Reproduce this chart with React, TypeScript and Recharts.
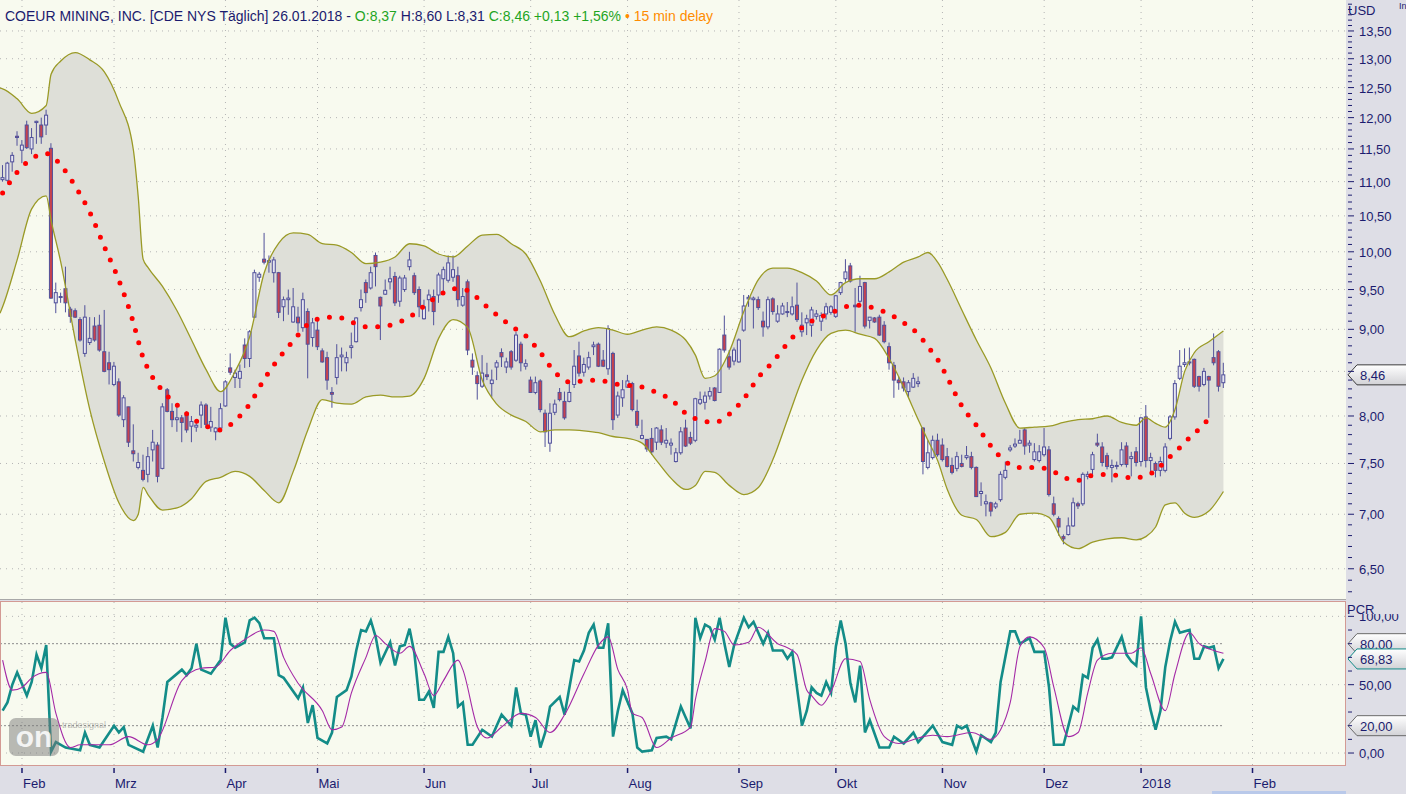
import { ComposedChart, Bar, Line, Area, XAxis, YAxis, CartesianGrid, ReferenceLine, ReferenceDot } from 'recharts';

// daily candles, index 0 = 26.01.2017 ... 252 = 26.01.2018
const OPEN = [
  11.03, 11.02, 11.3, 11.7, 11.48, 11.88, 11.5, 11.92, 11.88, 11.88,
  11.51, 9.33, 9.41, 9.51, 9.25, 9.23, 9.12, 8.71, 8.84, 9.04,
  9.05, 8.73, 8.6, 8.35, 8.38, 7.96, 8.1, 7.63, 7.46, 7.43,
  7.39, 7.64, 7.69, 7.45, 8.29, 8.05, 7.96, 7.98, 8.01, 7.89,
  7.88, 8.01, 8.12, 7.88, 7.83, 7.87, 8.11, 8.54, 8.43, 8.42,
  8.81, 8.65, 9.15, 9.66, 9.9, 9.86, 9.72, 9.72, 9.28, 9.37,
  9.09, 9.15, 9.02, 9.22, 8.9, 8.99, 8.74, 8.66, 8.26, 8.43,
  8.67, 8.6, 8.78, 8.85, 9.27, 9.59, 9.52, 9.95, 9.4, 9.44,
  9.6, 9.67, 9.35, 9.5, 9.8, 9.68, 9.5, 9.13, 9.37, 9.41,
  9.43, 9.64, 9.62, 9.66, 9.68, 9.3, 9.6, 8.63, 8.45, 8.33,
  8.46, 8.36, 8.55, 8.72, 8.55, 8.73, 8.63, 8.82, 8.56, 8.4,
  8.26, 8.39, 8.03, 7.71, 8.04, 8.26, 8.16, 8.16, 8.35, 8.68,
  8.49, 8.55, 8.79, 8.82, 8.63, 8.53, 8.71, 8.01, 8.2, 8.32,
  8.36, 8.05, 7.76, 7.75, 7.76, 7.72, 7.85, 7.71, 7.69, 7.52,
  7.61, 7.87, 7.77, 7.74, 8.14, 8.15, 8.22, 8.31, 8.26, 8.93,
  8.67, 8.62, 8.61, 8.99, 9.38, 9.37, 9.37, 9.1, 9.03, 9.38,
  9.1, 9.19, 9.21, 9.19, 9.3, 8.97, 9.08, 9.05, 9.16, 9.1,
  9.19, 9.21, 9.16, 9.46, 9.64, 9.81, 9.3, 9.35, 9.59, 9.11,
  9.14, 9.15, 9.05, 8.79, 8.57, 8.4, 8.38, 8.27, 8.32, 8.36,
  7.87, 7.46, 7.56, 7.74, 7.69, 7.57, 7.48, 7.45, 7.5, 7.56,
  7.57, 7.46, 7.2, 7.1, 7.11, 7.07, 7.14, 7.36, 7.64, 7.68,
  7.71, 7.85, 7.69, 7.54, 7.53, 7.59, 7.64, 7.1, 6.96, 6.79,
  6.81, 6.89, 7.1, 7.1, 7.37, 7.44, 7.71, 7.67, 7.58, 7.46,
  7.47, 7.49, 7.68, 7.55, 7.62, 7.52, 7.99, 7.53, 7.5, 7.43,
  7.43, 7.76, 7.99, 8.42, 8.58, 8.6, 8.64, 8.44, 8.35, 8.44,
  8.66, 8.73, 8.37,
];
const HIGH = [
  11.25, 11.3, 11.45, 11.78, 11.64, 11.95, 11.83, 11.95, 12.0, 12.13,
  11.59, 9.59, 9.46, 9.8, 9.28, 9.26, 9.15, 9.3, 9.15, 9.15,
  9.18, 9.24, 8.73, 8.61, 8.42, 8.23, 8.1, 7.91, 7.61, 7.59,
  7.67, 7.85, 7.72, 8.14, 8.31, 8.14, 8.1, 8.01, 8.05, 8.0,
  7.96, 8.16, 8.14, 8.1, 7.88, 8.14, 8.4, 8.71, 8.52, 8.58,
  8.89, 8.99, 9.76, 9.73, 10.26, 9.95, 9.93, 9.73, 9.41, 9.5,
  9.52, 9.28, 9.46, 9.26, 9.14, 9.12, 8.77, 8.73, 8.32, 8.82,
  8.78, 8.73, 8.96, 9.15, 9.5, 9.63, 9.8, 9.99, 9.41, 9.63,
  9.8, 9.73, 9.68, 9.69, 10.0, 9.72, 9.54, 9.37, 9.5, 9.5,
  9.72, 9.8, 9.95, 9.95, 9.8, 9.52, 9.63, 8.71, 8.5, 8.69,
  8.6, 8.52, 8.63, 8.77, 8.66, 8.75, 8.97, 8.85, 8.64, 8.44,
  8.44, 8.41, 8.07, 8.14, 8.18, 8.31, 8.27, 8.38, 8.75, 8.85,
  8.66, 8.73, 8.85, 8.84, 8.75, 9.05, 8.73, 8.27, 8.4, 8.46,
  8.38, 8.18, 7.96, 7.75, 7.87, 7.88, 7.9, 7.87, 7.76, 7.66,
  7.88, 7.96, 7.83, 8.2, 8.27, 8.27, 8.32, 8.32, 8.77, 9.17,
  8.75, 8.78, 8.89, 9.43, 9.43, 9.41, 9.41, 9.22, 9.41, 9.4,
  9.3, 9.33, 9.34, 9.41, 9.59, 9.21, 9.18, 9.28, 9.24, 9.21,
  9.33, 9.3, 9.43, 9.6, 9.9, 9.85, 9.52, 9.68, 9.6, 9.15,
  9.15, 9.18, 9.1, 8.84, 8.61, 8.44, 8.43, 8.4, 8.48, 8.44,
  7.88, 7.74, 7.79, 7.81, 7.76, 7.66, 7.56, 7.62, 7.59, 7.68,
  7.62, 7.47, 7.31, 7.19, 7.12, 7.12, 7.42, 7.52, 7.69, 7.76,
  7.85, 7.87, 7.74, 7.71, 7.69, 7.87, 7.68, 7.17, 6.98, 6.81,
  6.97, 7.16, 7.12, 7.41, 7.42, 7.62, 7.81, 7.72, 7.61, 7.54,
  7.52, 7.72, 7.72, 7.62, 7.67, 7.99, 8.12, 7.61, 7.52, 7.57,
  7.71, 8.01, 8.4, 8.75, 8.77, 8.78, 8.65, 8.45, 8.54, 8.45,
  8.95, 8.75, 8.6,
];
const LOW = [
  11.0, 11.0, 11.15, 11.55, 11.28, 11.5, 11.42, 11.58, 11.58, 11.72,
  9.38, 9.2, 9.33, 9.21, 9.08, 9.14, 8.85, 8.67, 8.81, 8.85,
  8.73, 8.49, 8.35, 8.33, 7.99, 7.88, 7.67, 7.52, 7.44, 7.32,
  7.31, 7.52, 7.31, 7.44, 8.04, 7.88, 7.83, 7.72, 7.82, 7.72,
  7.83, 7.87, 7.87, 7.83, 7.74, 7.85, 8.1, 8.46, 8.31, 8.31,
  8.54, 8.55, 9.14, 9.6, 9.83, 9.72, 9.59, 9.14, 9.1, 9.18,
  9.08, 8.97, 8.97, 8.42, 8.79, 8.75, 8.6, 8.29, 8.09, 8.35,
  8.5, 8.5, 8.65, 8.84, 9.22, 9.33, 9.5, 9.54, 8.87, 9.43,
  9.5, 9.29, 9.28, 9.47, 9.75, 9.43, 9.15, 9.12, 9.22, 9.05,
  9.33, 9.46, 9.59, 9.6, 9.28, 9.28, 8.69, 8.46, 8.18, 8.31,
  8.4, 8.21, 8.4, 8.55, 8.48, 8.52, 8.61, 8.5, 8.52, 8.26,
  8.24, 8.04, 7.67, 7.62, 8.01, 8.16, 7.96, 8.15, 8.31, 8.44,
  8.44, 8.52, 8.69, 8.55, 8.55, 8.46, 7.85, 7.98, 8.1, 8.31,
  8.05, 7.87, 7.75, 7.62, 7.59, 7.64, 7.69, 7.66, 7.59, 7.51,
  7.59, 7.67, 7.69, 7.72, 8.12, 8.07, 8.18, 8.16, 8.26, 8.72,
  8.52, 8.57, 8.6, 8.97, 9.28, 9.01, 9.24, 8.91, 9.0, 9.18,
  9.08, 9.18, 9.15, 9.17, 9.09, 8.91, 8.93, 8.91, 9.12, 8.98,
  9.12, 9.18, 9.14, 9.43, 9.6, 9.59, 8.97, 9.33, 9.01, 9.01,
  9.08, 8.92, 8.83, 8.52, 8.2, 8.29, 8.27, 8.21, 8.31, 8.32,
  7.39, 7.44, 7.54, 7.57, 7.52, 7.46, 7.39, 7.42, 7.46, 7.54,
  7.44, 7.17, 7.08, 6.98, 6.98, 7.05, 7.12, 7.34, 7.62, 7.66,
  7.71, 7.59, 7.61, 7.52, 7.51, 7.57, 7.17, 6.98, 6.8, 6.72,
  6.8, 6.88, 7.05, 7.08, 7.34, 7.39, 7.67, 7.47, 7.44, 7.31,
  7.44, 7.47, 7.46, 7.37, 7.47, 7.47, 7.46, 7.39, 7.36, 7.37,
  7.41, 7.74, 7.96, 8.4, 8.55, 8.57, 8.31, 8.27, 8.33, 7.98,
  8.57, 8.27, 8.31,
];
const CLOSE = [
  11.06, 11.28, 11.4, 11.68, 11.56, 11.52, 11.68, 11.94, 11.69, 12.04,
  9.39, 9.46, 9.4, 9.33, 9.16, 9.15, 8.87, 9.15, 8.89, 8.87,
  8.75, 8.5, 8.52, 8.56, 8.01, 8.2, 7.72, 7.6, 7.51, 7.34,
  7.57, 7.72, 7.37, 8.1, 8.05, 7.96, 7.98, 7.93, 7.85, 7.94,
  7.9, 8.12, 7.91, 7.94, 7.87, 8.08, 8.38, 8.49, 8.48, 8.5,
  8.65, 8.97, 9.72, 9.7, 9.86, 9.88, 9.89, 9.21, 9.37, 9.39,
  9.28, 9.08, 9.37, 8.82, 9.08, 8.79, 8.61, 8.4, 8.24, 8.66,
  8.69, 8.66, 8.8, 9.14, 9.37, 9.46, 9.72, 9.8, 9.29, 9.49,
  9.64, 9.33, 9.65, 9.65, 9.89, 9.46, 9.28, 9.28, 9.43, 9.22,
  9.69, 9.76, 9.85, 9.76, 9.37, 9.41, 8.75, 8.55, 8.36, 8.48,
  8.44, 8.4, 8.6, 8.67, 8.61, 8.55, 8.93, 8.6, 8.59, 8.26,
  8.37, 8.07, 7.83, 8.03, 8.13, 8.18, 7.98, 8.26, 8.56, 8.48,
  8.58, 8.66, 8.81, 8.56, 8.56, 9.01, 7.96, 8.22, 8.29, 8.39,
  8.07, 7.9, 7.79, 7.65, 7.62, 7.87, 7.72, 7.74, 7.71, 7.61,
  7.83, 7.68, 7.71, 8.19, 8.18, 8.22, 8.27, 8.17, 8.76, 8.75,
  8.55, 8.75, 8.87, 9.29, 9.4, 9.39, 9.27, 9.03, 9.37, 9.22,
  9.19, 9.29, 9.22, 9.28, 9.12, 9.05, 9.13, 9.24, 9.19, 9.17,
  9.28, 9.28, 9.42, 9.59, 9.73, 9.61, 9.28, 9.54, 9.04, 9.15,
  9.09, 8.93, 8.85, 8.6, 8.4, 8.37, 8.31, 8.37, 8.42, 8.38,
  7.52, 7.61, 7.74, 7.59, 7.54, 7.47, 7.41, 7.57, 7.47, 7.58,
  7.46, 7.17, 7.22, 7.12, 7.03, 7.1, 7.39, 7.43, 7.66, 7.7,
  7.74, 7.68, 7.71, 7.62, 7.62, 7.67, 7.19, 7.0, 6.88, 6.77,
  6.89, 7.11, 7.08, 7.39, 7.39, 7.59, 7.69, 7.51, 7.47, 7.48,
  7.48, 7.64, 7.49, 7.57, 7.51, 7.98, 7.53, 7.56, 7.43, 7.52,
  7.67, 7.99, 8.36, 8.56, 8.6, 8.61, 8.33, 8.33, 8.5, 8.4,
  8.6, 8.33, 8.46,
];

// Bollinger bands (upper / lower / middle), read at these day indices
const BAND_DAY = [
  -0.54, 0, 3, 6, 9, 10, 12, 15, 18, 21,
  24, 27, 28, 29, 30, 33, 36, 39, 42, 45,
  48, 51, 54, 57, 60, 63, 66, 69, 72, 75,
  78, 81, 84, 87, 90, 93, 96, 99, 102, 105,
  108, 111, 114, 117, 120, 123, 126, 129, 132, 135,
  138, 141, 143, 145, 147, 150, 153, 156, 159, 162,
  165, 168, 171, 174, 177, 180, 183, 186, 189, 191,
  193, 195, 198, 201, 204, 207, 210, 213, 216, 219,
  222, 225, 228, 231, 234, 236, 238, 240, 242, 244,
  246, 249, 252,
];
const BAND_UP = [
  12.49, 12.48, 12.31, 12.07, 12.2, 12.73, 12.96, 13.11, 12.98, 12.77,
  12.26, 11.48, 10.77, 9.9, 9.79, 9.54, 9.23, 8.87, 8.52, 8.27,
  8.5, 8.91, 9.72, 10.12, 10.26, 10.24, 10.11, 10.09, 9.99, 9.84,
  9.86, 9.93, 10.11, 10.08, 9.97, 9.93, 10.08, 10.23, 10.24, 10.11,
  9.97, 9.61, 9.18, 8.91, 8.98, 9.02, 8.99, 8.94, 8.99, 9.03,
  8.99, 8.87, 8.69, 8.42, 8.45, 8.73, 9.22, 9.63, 9.78, 9.78,
  9.72, 9.61, 9.43, 9.59, 9.64, 9.64, 9.73, 9.86, 9.93, 9.99,
  9.86, 9.63, 9.24, 8.87, 8.54, 8.14, 7.87, 7.88, 7.89, 7.93,
  7.96, 7.97, 8.0, 7.93, 7.9, 7.98, 7.92, 7.88, 8.07, 8.5,
  8.72, 8.85, 8.98,
];
const BAND_LO = [
  9.2, 9.28, 9.89, 10.6, 10.79, 10.44, 9.86, 8.87, 8.07, 7.52,
  7.11, 6.94, 7.0, 7.26, 7.19, 7.04, 7.06, 7.15, 7.32, 7.36,
  7.42, 7.37, 7.23, 7.11, 7.42, 7.85, 8.18, 8.14, 8.13, 8.21,
  8.23, 8.21, 8.22, 8.42, 8.89, 9.12, 9.02, 8.4, 8.13, 8.01,
  7.94, 7.83, 7.85, 7.85, 7.84, 7.82, 7.78, 7.76, 7.71, 7.53,
  7.35, 7.24, 7.28, 7.42, 7.41, 7.28, 7.19, 7.26, 7.54, 7.96,
  8.4, 8.75, 8.95, 8.99, 8.94, 8.89, 8.65, 8.32, 7.96, 7.74,
  7.53, 7.24, 6.99, 6.95, 6.79, 6.83, 7.0, 7.01, 6.97, 6.74,
  6.68, 6.74, 6.77, 6.78, 6.76, 6.79, 6.88, 7.09, 7.11, 7.01,
  6.97, 7.03, 7.22,
];
const BAND_MID = [
  null, 10.83, 11.14, 11.35, 11.43, 11.4, 11.25, 10.93, 10.55, 10.07,
  9.62, 9.08, 8.86, 8.66, 8.53, 8.28, 8.12, 7.98, 7.89, 7.85,
  7.95, 8.13, 8.41, 8.65, 8.86, 9.06, 9.14, 9.15, 9.09, 9.03,
  9.03, 9.07, 9.15, 9.29, 9.42, 9.51, 9.49, 9.33, 9.18, 9.04,
  8.92, 8.72, 8.49, 8.38, 8.39, 8.4, 8.36, 8.34, 8.32, 8.26,
  8.18, 8.03, 7.97, 7.94, 7.93, 8.02, 8.19, 8.43, 8.61, 8.83,
  9.02, 9.13, 9.2, 9.28, 9.3, 9.26, 9.19, 9.08, 8.94, 8.79,
  8.64, 8.43, 8.11, 7.9, 7.68, 7.52, 7.46, 7.46, 7.44, 7.36,
  7.33, 7.38, 7.39, 7.37, 7.35, 7.39, 7.42, 7.53, 7.61, 7.72,
  7.81, 7.97, null,
];

// PCR oscillator and its signal line
const PCR_DAY = [
  0, 1, 2, 3, 5, 6, 7, 8, 9, 10, 11, 13, 16, 17, 18, 20, 23, 24, 25, 26,
  29, 31, 32, 33, 34, 37, 38, 39, 40, 41, 43, 45, 46, 47, 48, 49, 50, 51, 52, 53,
  54, 56, 57, 58, 61, 62, 63, 64, 65, 67, 68, 69, 71, 72, 73, 74, 75, 76, 77, 78,
  80, 81, 82, 83, 84, 85, 86, 87, 88, 89, 90, 91, 92, 93, 94, 95, 96, 97, 99, 101,
  103, 105, 106, 107, 108, 109, 110, 111, 112, 113, 115, 116, 118, 119, 120, 121, 122, 123, 124, 125,
  126, 127, 128, 130, 131, 132, 134, 135, 137, 138, 140, 141, 142, 143, 144, 145, 146, 147, 148, 149,
  150, 151, 153, 154, 155, 157, 158, 159, 161, 162, 163, 165, 166, 167, 168, 169, 170, 171, 172, 173,
  174, 175, 176, 177, 178, 179, 181, 183, 184, 186, 188, 189, 192, 194, 196, 197, 198, 199, 201, 202,
  204, 205, 206, 208, 209, 210, 212, 213, 215, 216, 217, 219, 221, 222, 223, 224, 225, 226, 227, 228,
  229, 231, 232, 233, 234, 235, 236, 237, 238, 239, 240, 241, 242, 243, 245, 246, 247, 248, 249, 250,
  251, 252,
];
const PCR_VAL = [
  31, 37, 50, 59, 42, 52, 72, 62, 79, 1, 8, 4, 2, 15, 6, 4, 20, 15, 19, 6,
  1, 20, 4, 26, 52, 61, 57, 62, 80, 61, 58, 68, 99, 80, 77, 79, 81, 97, 99, 95,
  84, 84, 57, 55, 40, 48, 22, 35, 11, 7, 15, 41, 46, 56, 75, 90, 89, 97, 85, 66,
  81, 64, 78, 79, 91, 73, 39, 39, 45, 33, 74, 74, 85, 73, 34, 37, 6, 6, 17, 12,
  28, 20, 48, 29, 28, 12, 24, 4, 15, 34, 41, 28, 68, 67, 75, 88, 94, 77, 77, 95,
  12, 31, 46, 29, 4, 1, 2, 11, 12, 10, 34, 26, 18, 99, 84, 94, 92, 83, 99, 80,
  63, 79, 99, 92, 96, 80, 88, 75, 75, 69, 74, 20, 31, 48, 44, 42, 52, 44, 78, 97,
  80, 51, 37, 64, 15, 24, 4, 4, 12, 7, 15, 8, 20, 8, 6, 20, 18, 20, 1, 13,
  8, 15, 52, 89, 89, 80, 84, 74, 74, 48, 6, 6, 34, 31, 57, 55, 77, 83, 69, 69,
  70, 85, 72, 67, 64, 100, 48, 31, 17, 31, 63, 82, 96, 88, 90, 69, 69, 78, 77, 78,
  62, 68.83,
];
const SIG_DAY = [
  0, 2, 4, 6, 9, 11, 14, 16, 22, 26, 30, 32, 37, 41, 44, 47, 50, 54, 56, 58,
  61, 66, 68, 70, 72, 75, 77, 79, 82, 84, 87, 89, 91, 94, 95, 98, 100, 103, 107, 110,
  113, 116, 120, 123, 125, 127, 129, 130, 132, 135, 138, 142, 143, 145, 147, 149, 151, 154, 156, 160,
  162, 164, 166, 167, 169, 171, 174, 177, 179, 182, 185, 189, 192, 195, 200, 204, 206, 208, 210, 212,
  215, 217, 220, 222, 224, 226, 229, 233, 235, 237, 240, 242, 245, 247, 250, 252,
];
const SIG_VAL = [
  68, 46, 48, 55, 59, 29, 4, 6, 6, 12, 6, 10, 53, 62, 63, 75, 83, 90, 89, 70,
  51, 31, 17, 19, 44, 70, 86, 80, 73, 78, 58, 42, 53, 68, 61, 19, 11, 19, 29, 26,
  15, 28, 58, 79, 85, 61, 46, 29, 26, 4, 11, 19, 39, 67, 91, 89, 79, 81, 92, 80,
  77, 72, 46, 42, 35, 45, 69, 67, 39, 12, 7, 11, 13, 12, 15, 10, 17, 37, 78, 85,
  77, 48, 12, 15, 44, 68, 73, 73, 77, 58, 31, 58, 88, 80, 75, 73,
];

const MONTH_DAY = [4, 23, 46, 65, 87, 109, 129, 152, 172, 194, 215, 235, 258];
const MONTH_LABEL = ['Feb', 'Mrz', 'Apr', 'Mai', 'Jun', 'Jul', 'Aug', 'Sep', 'Okt', 'Nov', 'Dez', '2018', 'Feb'];
const PRICE_LABELS = [6.5, 7, 7.5, 8, 8.5, 9, 9.5, 10, 10.5, 11, 11.5, 12, 12.5, 13, 13.5];
const PRICE_TICKS = Array.from({ length: 78 }, (_, k) => +(6.3 + k * 0.1).toFixed(1));
const PCR_TICKS = [0, 10, 20, 30, 40, 50, 60, 70, 80, 90, 100];
const PCR_LABELS = [0, 50, 100];

const X_DOMAIN: [number, number] = [-0.54, 277.3];
const LAST_CLOSE = 8.46;

const candles = OPEN.map((o, i) => ({ i, o, h: HIGH[i], l: LOW[i], c: CLOSE[i] }));
const band = BAND_DAY.map((i, k) => ({ i, up: BAND_UP[k], lo: BAND_LO[k], mid: BAND_MID[k] }));
const pcr = PCR_DAY.map((i, k) => ({ i, v: PCR_VAL[k] }));
const sig = SIG_DAY.map((i, k) => ({ i, v: SIG_VAL[k] }));

const NAVY = '#1b1b6e';
const FONT = '"Liberation Sans", Arial, sans-serif';
const PLOT_BG = '#f8faef';
const AXIS_BG = '#dedee6';
const fmt = (v: number) => v.toFixed(2).replace('.', ',');

function Candle(props: any) {
  const { x, y, width, height, payload } = props;
  if (!payload || height == null || isNaN(y)) return null;
  const { o, h, l, c } = payload;
  const yTop = Math.min(y, y + height);
  const yBot = Math.max(y, y + height);
  const span = Math.log(h) - Math.log(l) || 1;
  const py = (v: number) => yTop + ((yBot - yTop) * (Math.log(h) - Math.log(v))) / span;
  const cx = x + width / 2;
  const bTop = py(Math.max(o, c));
  const bBot = py(Math.min(o, c));
  const up = c >= o;
  return (
    <g>
      <line x1={cx} x2={cx} y1={yTop} y2={yBot} stroke="#50509a" strokeWidth={1} />
      <rect
        x={cx - 1.5}
        y={bTop}
        width={3}
        height={Math.max(bBot - bTop, 1)}
        fill={up ? '#e6e6f0' : '#c8424e'}
        stroke="#50509a"
        strokeWidth={1}
      />
    </g>
  );
}

// the last-price tag covers the axis label that sits under it
function PriceTick({ x, y, payload }: any) {
  const v = payload.value;
  const major = PRICE_LABELS.some((p) => Math.abs(p - v) < 1e-6);
  const hidden = Math.abs(v - LAST_CLOSE) < 0.1;
  return (
    <g>
      <line x1={x + 2} x2={x + (major ? 8 : 6)} y1={y} y2={y} stroke={NAVY} strokeWidth={1} />
      {major && !hidden && (
        <text x={x + 13} y={y} dy={5} fontSize={13} fill={NAVY} fontFamily={FONT}>
          {fmt(v)}
        </text>
      )}
    </g>
  );
}

function PcrTick({ x, y, payload }: any) {
  const v = payload.value;
  const major = PCR_LABELS.includes(v);
  return (
    <g>
      <line x1={x + 2} x2={x + (major ? 8 : 6)} y1={y} y2={y} stroke={NAVY} strokeWidth={1} />
      {major && (
        <text x={x + 13} y={y} dy={5} fontSize={13} fill={NAVY} fontFamily={FONT}>
          {fmt(v)}
        </text>
      )}
    </g>
  );
}

function MonthTick({ x, y, payload }: any) {
  const label = MONTH_LABEL[MONTH_DAY.indexOf(payload.value)];
  return (
    <g>
      <line x1={x} x2={x} y1={y + 2} y2={y + 7} stroke={NAVY} strokeWidth={1.5} />
      <text x={x + 1} y={y + 22} fontSize={13} fill={NAVY} fontFamily={FONT}>
        {label}
      </text>
    </g>
  );
}

function Tag({ cx, cy, text, border }: any) {
  const x0 = cx + 2;
  return (
    <g>
      <path
        d={`M${x0},${cy} L${x0 + 9},${cy - 10} L${x0 + 62},${cy - 10} L${x0 + 62},${cy + 10} L${x0 + 9},${cy + 10} Z`}
        fill="url(#tagGrad)"
        stroke={border}
        strokeWidth={1}
      />
      <text x={x0 + 12} y={cy} dy={5} fontSize={13} fill={NAVY} fontFamily={FONT}>
        {text}
      </text>
    </g>
  );
}

const tagDefs = (
  <defs>
    <linearGradient id="tagGrad" x1="0" y1="0" x2="0" y2="1">
      <stop offset="0%" stopColor="#ffffff" />
      <stop offset="100%" stopColor="#d2d2d6" />
    </linearGradient>
  </defs>
);

function PriceChart() {
  return (
    <ComposedChart width={1406} height={600} data={candles} margin={{ top: 0, right: 0, bottom: 0, left: 0 }}>
      {tagDefs}
      <CartesianGrid
        fill={PLOT_BG}
        fillOpacity={1}
        stroke="#b4b4b4"
        strokeDasharray="1 5"
        horizontalValues={PRICE_LABELS}
        verticalValues={MONTH_DAY}
      />
      <XAxis type="number" dataKey="i" domain={X_DOMAIN} allowDataOverflow hide />
      <YAxis
        orientation="right"
        scale="log"
        domain={[6.23, 14.08]}
        allowDataOverflow
        ticks={PRICE_TICKS}
        interval={0}
        tick={<PriceTick />}
        tickSize={0}
        tickMargin={0}
        axisLine={false}
        tickLine={false}
        width={60}
      />
      <Area
        data={band}
        dataKey={(d: any) => [d.lo, d.up]}
        type="monotone"
        fill="#dedfd8"
        fillOpacity={1}
        stroke="none"
        dot={false}
        activeDot={false}
        isAnimationActive={false}
      />
      <Line data={band} dataKey="up" type="monotone" stroke="#9a9a26" strokeWidth={1.3} dot={false} activeDot={false} isAnimationActive={false} />
      <Line data={band} dataKey="lo" type="monotone" stroke="#9a9a26" strokeWidth={1.3} dot={false} activeDot={false} isAnimationActive={false} />
      <Bar dataKey={(d: any) => [d.l, d.h]} barSize={3} shape={<Candle />} isAnimationActive={false} />
      <Line
        data={band}
        dataKey="mid"
        type="monotone"
        stroke="#ff0000"
        strokeWidth={5}
        strokeDasharray="0 12.5"
        strokeLinecap="round"
        dot={false}
        activeDot={false}
        isAnimationActive={false}
      />
      <ReferenceDot
        x={X_DOMAIN[1]}
        y={LAST_CLOSE}
        ifOverflow="visible"
        shape={(p: any) => <Tag cx={p.cx} cy={p.cy} text={fmt(LAST_CLOSE)} border="#3a3a3a" />}
      />
    </ComposedChart>
  );
}

function PcrChart() {
  const last = PCR_VAL[PCR_VAL.length - 1];
  return (
    <ComposedChart width={1406} height={194} data={pcr} margin={{ top: 2, right: 0, bottom: 0, left: 0 }}>
      {tagDefs}
      <CartesianGrid
        fill={PLOT_BG}
        fillOpacity={1}
        stroke="#b4b4b4"
        strokeDasharray="1 5"
        horizontalValues={PCR_LABELS}
        verticalValues={MONTH_DAY}
      />
      <XAxis
        type="number"
        dataKey="i"
        domain={X_DOMAIN}
        allowDataOverflow
        ticks={MONTH_DAY}
        interval={0}
        tick={<MonthTick />}
        tickSize={0}
        tickMargin={0}
        axisLine={false}
        tickLine={false}
        height={28}
      />
      <YAxis
        orientation="right"
        domain={[-9.5, 110.5]}
        allowDataOverflow
        ticks={PCR_TICKS}
        interval={0}
        tick={<PcrTick />}
        tickSize={0}
        tickMargin={0}
        axisLine={false}
        tickLine={false}
        width={60}
      />
      <ReferenceLine segment={[{ x: X_DOMAIN[0], y: 80 }, { x: 252, y: 80 }]} stroke="#8c8c8c" strokeDasharray="2 2" />
      <ReferenceLine segment={[{ x: X_DOMAIN[0], y: 20 }, { x: 252, y: 20 }]} stroke="#8c8c8c" strokeDasharray="2 2" />
      <Line dataKey="v" type="linear" stroke="#138c88" strokeWidth={2.6} dot={false} activeDot={false} isAnimationActive={false} />
      <Line data={sig} dataKey="v" type="monotone" stroke="#a42aa6" strokeWidth={1.1} dot={false} activeDot={false} isAnimationActive={false} />
      <ReferenceDot x={X_DOMAIN[1]} y={80} ifOverflow="visible" shape={(p: any) => <Tag cx={p.cx} cy={p.cy} text="80,00" border="#6a6a6a" />} />
      <ReferenceDot x={X_DOMAIN[1]} y={last} ifOverflow="visible" shape={(p: any) => <Tag cx={p.cx} cy={p.cy} text={fmt(last)} border="#138c88" />} />
      <ReferenceDot x={X_DOMAIN[1]} y={20} ifOverflow="visible" shape={(p: any) => <Tag cx={p.cx} cy={p.cy} text="20,00" border="#6a6a6a" />} />
    </ComposedChart>
  );
}

export default function App() {
  return (
    <div
      style={{
        position: 'absolute',
        left: 0,
        top: 0,
        width: 1406,
        height: 794,
        overflow: 'hidden',
        background: AXIS_BG,
        fontFamily: FONT,
      }}
    >
      <div style={{ position: 'absolute', left: 0, top: 0 }}>
        <PriceChart />
      </div>
      <div style={{ position: 'absolute', left: 0, top: 600 }}>
        <PcrChart />
      </div>

      {/* header line */}
      <div style={{ position: 'absolute', left: 5, top: 8, fontSize: 14, lineHeight: '16px', color: NAVY, whiteSpace: 'nowrap' }}>
        COEUR MINING, INC. [CDE NYS Täglich] 26.01.2018 -{' '}
        <span style={{ color: '#1fa51f' }}>O:8,37</span> H:8,60 L:8,31{' '}
        <span style={{ color: '#1fa51f' }}>C:8,46 +0,13 +1,56%</span>{' '}
        <span style={{ color: '#ff8c00' }}>• 15 min delay</span>
      </div>

      <div style={{ position: 'absolute', left: 1348, top: 3, fontSize: 13, lineHeight: '15px', color: NAVY }}>USD</div>
      <div style={{ position: 'absolute', left: 1399, top: 1, fontSize: 9, lineHeight: '10px', color: NAVY }}>In</div>

      {/* panel frames */}
      <div style={{ position: 'absolute', left: 0, top: 599, width: 1346, height: 1, background: '#a8a8a8' }} />
      <div
        style={{
          position: 'absolute',
          left: 0,
          top: 601,
          width: 1346,
          height: 165,
          boxSizing: 'border-box',
          border: '1px solid #d39a94',
          pointerEvents: 'none',
        }}
      />
      <div
        style={{
          position: 'absolute',
          left: 1347,
          top: 602,
          width: 59,
          height: 12,
          background: AXIS_BG,
          fontSize: 13,
          lineHeight: '16px',
          color: NAVY,
        }}
      >
        PCR
      </div>

      {/* watermark */}
      <div
        style={{
          position: 'absolute',
          left: 9,
          top: 718,
          width: 50,
          height: 38,
          borderRadius: 7,
          background: 'rgba(120,120,120,0.5)',
          color: 'rgba(255,255,255,0.85)',
          fontSize: 30,
          fontWeight: 'bold',
          lineHeight: '38px',
          textAlign: 'center',
        }}
      >
        on
      </div>
      <div style={{ position: 'absolute', left: 62, top: 720, fontSize: 9, color: 'rgba(120,120,120,0.5)' }}>tradesignal</div>
      <div style={{ position: 'absolute', left: 1212, top: 791, width: 134, height: 3, background: '#b9c9ea' }} />
    </div>
  );
}
